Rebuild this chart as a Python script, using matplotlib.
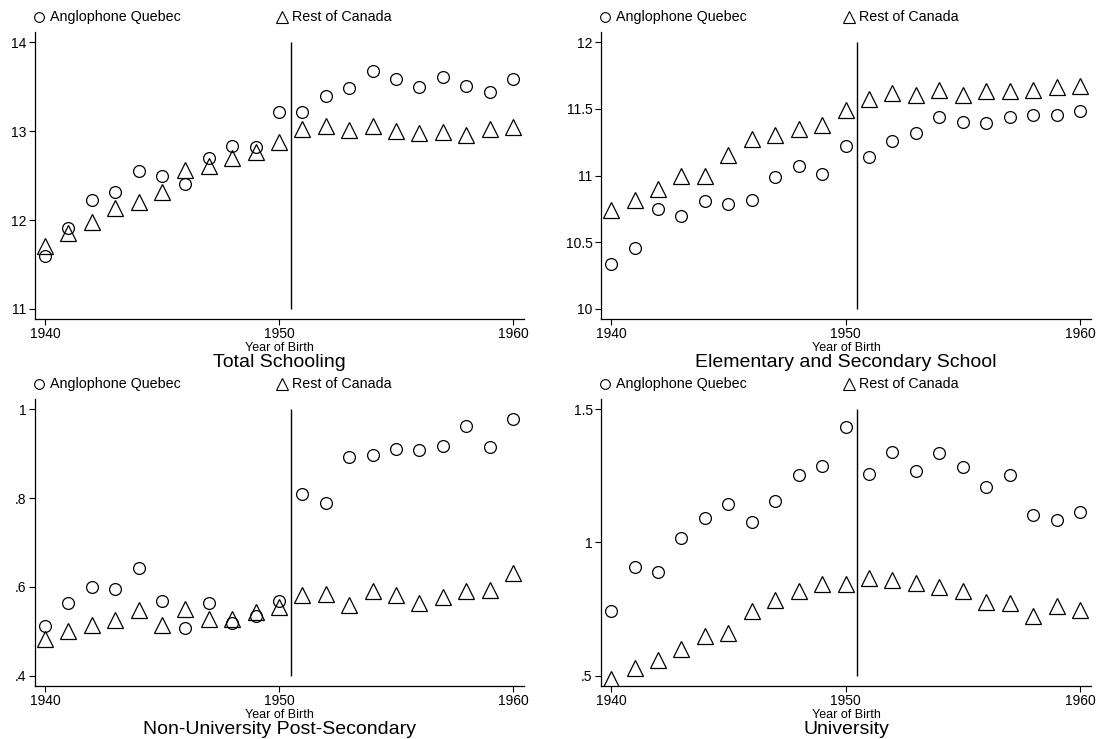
import matplotlib
matplotlib.use("Agg")
import matplotlib.pyplot as plt
from matplotlib.ticker import FuncFormatter

plt.rcParams['font.family'] = ['Liberation Sans', 'DejaVu Sans']

years = list(range(1940, 1961))

# Total schooling
total_aq = [11.59, 11.91, 12.23, 12.31, 12.55, 12.49, 12.40, 12.70, 12.83, 12.82, 13.21,
            13.21, 13.39, 13.48, 13.67, 13.59, 13.50, 13.61, 13.51, 13.44, 13.58]
total_roc = [11.71, 11.85, 11.98, 12.13, 12.20, 12.32, 12.56, 12.61, 12.70, 12.76, 12.88,
             13.02, 13.06, 13.01, 13.06, 13.00, 12.98, 12.99, 12.95, 13.02, 13.05]

# Elementary and secondary
elem_aq = [10.34, 10.46, 10.75, 10.70, 10.81, 10.79, 10.82, 10.99, 11.07, 11.01, 11.22,
           11.14, 11.26, 11.32, 11.44, 11.40, 11.39, 11.44, 11.45, 11.45, 11.48]
elem_roc = [10.74, 10.82, 10.90, 11.00, 11.00, 11.15, 11.27, 11.30, 11.35, 11.38, 11.49,
            11.57, 11.62, 11.60, 11.64, 11.60, 11.63, 11.63, 11.64, 11.66, 11.67]

# Non-university post-secondary
nonuni_aq = [0.512, 0.563, 0.601, 0.596, 0.642, 0.569, 0.507, 0.563, 0.518, 0.534, 0.569,
             0.808, 0.788, 0.893, 0.896, 0.911, 0.909, 0.918, 0.962, 0.914, 0.977]
nonuni_roc = [0.482, 0.502, 0.515, 0.526, 0.548, 0.515, 0.551, 0.527, 0.529, 0.544, 0.554,
              0.581, 0.584, 0.560, 0.590, 0.581, 0.564, 0.577, 0.590, 0.594, 0.632]

# University
uni_aq = [0.743, 0.907, 0.888, 1.016, 1.091, 1.145, 1.076, 1.154, 1.251, 1.287, 1.431,
          1.257, 1.338, 1.266, 1.334, 1.282, 1.209, 1.254, 1.103, 1.084, 1.116]
uni_roc = [0.490, 0.531, 0.559, 0.600, 0.651, 0.660, 0.742, 0.785, 0.819, 0.843, 0.843,
           0.867, 0.858, 0.849, 0.832, 0.819, 0.777, 0.774, 0.725, 0.762, 0.748]

panels = [
    ("Total Schooling", total_aq, total_roc, [11, 12, 13, 14]),
    ("Elementary and Secondary School", elem_aq, elem_roc, [10, 10.5, 11, 11.5, 12]),
    ("Non-University Post-Secondary", nonuni_aq, nonuni_roc, [0.4, 0.6, 0.8, 1.0]),
    ("University", uni_aq, uni_roc, [0.5, 1.0, 1.5]),
]

cutoff = 1950.5


def stata_fmt(v, pos):
    s = ('%g' % round(v, 4))
    if s.startswith('0.'):
        s = s[1:]
    return s


fig = plt.figure(figsize=(10.97, 7.39), dpi=100)
boxes = [
    (0.0319, 0.5683, 0.4458, 0.3884),
    (0.5479, 0.5683, 0.4467, 0.3884),
    (0.0319, 0.0717, 0.4458, 0.3884),
    (0.5479, 0.0717, 0.4467, 0.3884),
]

for box, (title, aq, roc, yticks) in zip(boxes, panels):
    ax = fig.add_axes(box)
    lo, hi = yticks[0], yticks[-1]
    pad = 0.0376 * (hi - lo)
    ax.set_ylim(lo - pad, hi + pad)
    ax.set_xlim(1939.57, 1960.47)

    ax.plot(years, aq, linestyle='none', marker='o', markersize=8.5,
            markerfacecolor='none', markeredgecolor='black', markeredgewidth=0.9)
    ax.plot(years, roc, linestyle='none', marker='^', markersize=11,
            markerfacecolor='none', markeredgecolor='black', markeredgewidth=0.9)
    ax.vlines(cutoff, lo, hi, color='black', linewidth=1.0)

    ax.set_xticks([1940, 1950, 1960])
    ax.set_yticks(yticks)
    ax.yaxis.set_major_formatter(FuncFormatter(stata_fmt))
    ax.tick_params(direction='out', length=4.5, width=0.8, labelsize=10, pad=1.5)
    for side in ('top', 'right'):
        ax.spines[side].set_visible(False)
    for side in ('left', 'bottom'):
        ax.spines[side].set_linewidth(0.9)

    ax.text(0.5, -0.101, "Year of Birth", transform=ax.transAxes,
            ha='center', va='center', fontsize=9)
    ax.text(0.5, -0.153, title, transform=ax.transAxes,
            ha='center', va='center', fontsize=14)

    # legend row above the plot area
    ly = 1.052
    ax.plot([0.008], [ly], transform=ax.transAxes, clip_on=False, linestyle='none',
            marker='o', markersize=7, markerfacecolor='none',
            markeredgecolor='black', markeredgewidth=0.8)
    ax.text(0.031, ly, "Anglophone Quebec", transform=ax.transAxes,
            ha='left', va='center', fontsize=10.3)
    ax.plot([0.505], [ly], transform=ax.transAxes, clip_on=False, linestyle='none',
            marker='^', markersize=9, markerfacecolor='none',
            markeredgecolor='black', markeredgewidth=0.8)
    ax.text(0.526, ly, "Rest of Canada", transform=ax.transAxes,
            ha='left', va='center', fontsize=10.3)

fig.savefig("out.png", dpi=100)
